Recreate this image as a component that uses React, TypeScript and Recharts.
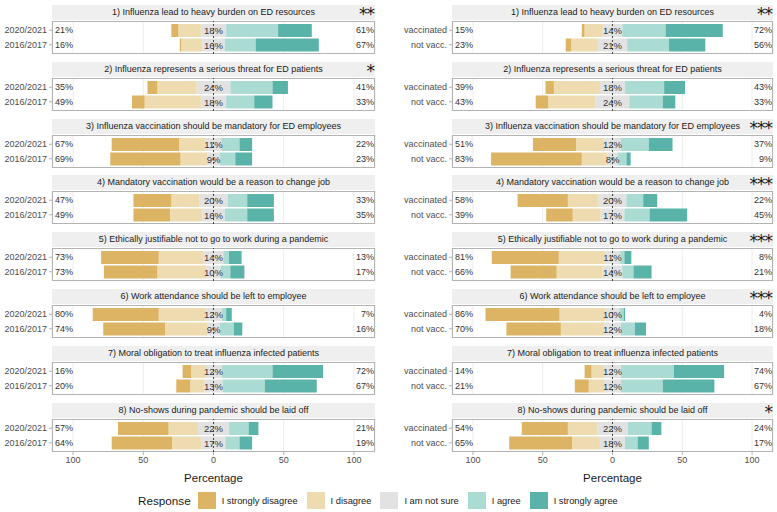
import React from "react";
import { BarChart, Bar, XAxis, YAxis, CartesianGrid, ReferenceLine, LabelList } from "recharts";

const RESPONSES = ["I strongly disagree", "I disagree", "I am not sure", "I agree", "I strongly agree"];
const COLORS = ["#dcb463", "#eedcb0", "#e2e2e2", "#aadcd4", "#5ab3a8"];

const ITEMS = [
  "1) Influenza lead to heavy burden on ED resources",
  "2) Influenza represents a serious threat for ED patients",
  "3) Influenza vaccination should be mandatory for ED employees",
  "4) Mandatory vaccination would be a reason to change job",
  "5) Ethically justifiable not to go to work during a pandemic",
  "6) Work attendance should be left to employee",
  "7) Moral obligation to treat influenza infected patients",
  "8) No-shows during pandemic should be laid off",
];

const SEASONS = ["2020/2021", "2016/2017"];
const STATUS = ["vaccinated", "not vacc."];

// per item: strongly disagree, disagree, not sure, agree, strongly agree
const season2020 = [[5, 16, 18, 37, 24], [7, 28, 24, 30, 11], [48, 19, 11, 13, 9], [27, 20, 20, 14, 19], [41, 32, 14, 4, 9], [47, 33, 12, 3, 4], [6, 10, 12, 36, 36], [36, 21, 22, 14, 7]];
const season2016 = [[1, 15, 16, 22, 45], [9, 40, 18, 20, 13], [50, 19, 9, 11, 12], [26, 23, 16, 16, 19], [38, 35, 10, 7, 10], [44, 30, 9, 10, 6], [10, 10, 13, 30, 37], [43, 21, 17, 10, 9]];
const vaccinated = [[2, 13, 14, 31, 41], [6, 33, 18, 28, 15], [31, 20, 12, 20, 17], [36, 22, 20, 12, 10], [48, 33, 11, 3, 5], [53, 33, 10, 3, 1], [5, 9, 12, 38, 36], [33, 21, 22, 17, 7]];
const notVaccinated = [[4, 19, 21, 30, 26], [9, 34, 24, 24, 9], [65, 18, 8, 6, 3], [19, 20, 17, 18, 27], [33, 33, 14, 8, 13], [39, 31, 12, 10, 8], [10, 11, 12, 30, 37], [45, 20, 18, 9, 8]];

const seasonStars = ["**", "*", "", "", "", "", "", ""];
const statusStars = ["**", "", "***", "***", "***", "***", "", "*"];

const TICKS = [-100, -50, 0, 50, 100];
const FONT = "'Liberation Sans', Arial, sans-serif";

const toRow = (group: string, v: number[]) => ({
  group,
  sd: -v[0],
  d: -v[1],
  nl: -v[2] / 2,
  nr: v[2] / 2,
  a: v[3],
  sa: v[4],
  left: v[0] + v[1],
  mid: v[2],
  right: v[3] + v[4],
});

function Facet({ title, stars, rows, labelWidth, width, last }: any) {
  const plotW = width - labelWidth - 2;
  const boxH = 33;
  const chartH = last ? boxH + 34 : boxH;
  const pad = { top: 2, bottom: 2 };

  return (
    <div style={{ width }}>
      <div
        style={{
          marginLeft: labelWidth,
          width: plotW,
          height: 15,
          background: "#efefef",
          position: "relative",
          fontSize: 9,
          lineHeight: "15px",
          textAlign: "center",
          color: "#1a1a1a",
        }}
      >
        {title}
        {stars && (
          <span style={{ position: "absolute", right: 1, top: -1, fontFamily: "'DejaVu Sans'", fontSize: 17, lineHeight: "20px", letterSpacing: -1 }}>
            {stars}
          </span>
        )}
      </div>
      <BarChart
        layout="vertical"
        width={width}
        height={chartH}
        data={rows}
        stackOffset="sign"
        barSize={13}
        margin={{ top: 0, right: 2, bottom: 0, left: 0 }}
        style={{ marginTop: 1 }}
      >
        <CartesianGrid horizontal={false} stroke="#ededed" />
        <CartesianGrid
          stroke="#b3b3b3"
          fill="none"
          horizontalCoordinatesGenerator={({ offset }: any) => [offset.top + 0.5, offset.top + offset.height - 0.5]}
          verticalCoordinatesGenerator={({ offset }: any) => [offset.left + 0.5, offset.left + offset.width - 0.5]}
        />
        <XAxis
          type="number"
          domain={[-115, 115]}
          ticks={TICKS}
          allowDataOverflow
          hide={!last}
          height={34}
          tickFormatter={(v: number) => String(Math.abs(v))}
          axisLine={false}
          tickSize={3}
          tickMargin={2}
          tickLine={{ stroke: "#b3b3b3" }}
          tick={{ fontSize: 9, fill: "#4d4d4d" }}
          label={{ value: "Percentage", position: "insideBottom", offset: 4, fontSize: 11.5, fill: "#1a1a1a" }}
        />
        <YAxis
          type="category"
          dataKey="group"
          width={labelWidth}
          padding={pad}
          interval={0}
          axisLine={false}
          tickSize={3}
          tickMargin={2}
          tickLine={{ stroke: "#b3b3b3" }}
          tick={{ fontSize: 9, fill: "#4d4d4d" }}
        />
        <YAxis
          yAxisId="lp"
          type="category"
          dataKey="group"
          mirror
          padding={pad}
          interval={0}
          axisLine={false}
          tickLine={false}
          tickSize={0}
          tickMargin={3}
          tick={{ fontSize: 9, fill: "#333333" }}
          tickFormatter={(_: any, i: number) => `${rows[i].left}%`}
        />
        <YAxis
          yAxisId="rp"
          type="category"
          dataKey="group"
          orientation="right"
          mirror
          padding={pad}
          interval={0}
          axisLine={false}
          tickLine={false}
          tickSize={0}
          tickMargin={1}
          tick={{ fontSize: 9, fill: "#333333" }}
          tickFormatter={(_: any, i: number) => `${rows[i].right}%`}
        />
        <ReferenceLine x={0} stroke="#444444" strokeDasharray="2 2" />
        <Bar dataKey="nl" stackId="s" fill={COLORS[2]} isAnimationActive={false} />
        <Bar dataKey="nr" stackId="s" fill={COLORS[2]} isAnimationActive={false}>
          <LabelList
            dataKey="mid"
            content={(p: any) => (
              <text x={p.x} y={p.y + p.height / 2} textAnchor="middle" dominantBaseline="central" fontSize={9.5} fill="#333333">
                {p.value}%
              </text>
            )}
          />
        </Bar>
        <Bar dataKey="d" stackId="s" fill={COLORS[1]} isAnimationActive={false} />
        <Bar dataKey="a" stackId="s" fill={COLORS[3]} isAnimationActive={false} />
        <Bar dataKey="sd" stackId="s" fill={COLORS[0]} isAnimationActive={false} />
        <Bar dataKey="sa" stackId="s" fill={COLORS[4]} isAnimationActive={false} />
      </BarChart>
    </div>
  );
}

function Panel({ groups, first, second, stars, left, labelWidth, width }: any) {
  return (
    <div style={{ position: "absolute", left, top: 5, width }}>
      {ITEMS.map((title, i) => (
        <div key={title} style={{ position: "absolute", top: i * 56.8, left: 0 }}>
          <Facet
            title={title}
            stars={stars[i]}
            rows={[toRow(groups[0], first[i]), toRow(groups[1], second[i])]}
            labelWidth={labelWidth}
            width={width}
            last={i === ITEMS.length - 1}
          />
        </div>
      ))}
    </div>
  );
}

export default function App() {
  return (
    <div style={{ position: "absolute", left: 0, top: 0, width: 777, height: 512, background: "#fff", fontFamily: FONT, overflow: "hidden" }}>
      <Panel groups={SEASONS} first={season2020} second={season2016} stars={seasonStars} left={0} labelWidth={52} width={377} />
      <Panel groups={STATUS} first={vaccinated} second={notVaccinated} stars={statusStars} left={390} labelWidth={62} width={385} />
      <div style={{ position: "absolute", top: 492, left: 138, display: "flex", alignItems: "center", color: "#1a1a1a" }}>
        <span style={{ fontSize: 11.7, marginRight: 7 }}>Response</span>
        {RESPONSES.map((r, i) => (
          <span key={r} style={{ display: "flex", alignItems: "center", marginRight: 9 }}>
            <span style={{ width: 18, height: 17, background: COLORS[i], display: "inline-block", marginRight: 6 }} />
            <span style={{ fontSize: 9.3 }}>{r}</span>
          </span>
        ))}
      </div>
    </div>
  );
}
